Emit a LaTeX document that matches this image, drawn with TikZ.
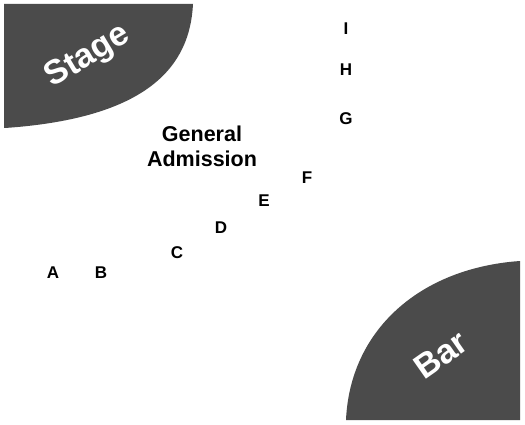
\documentclass[tikz,border=0pt]{standalone}
\usepackage{fontspec}
\setmainfont{Liberation Sans}
\definecolor{venue}{RGB}{75,75,75}
\begin{document}
\begin{tikzpicture}[x=1pt,y=-1pt,
  area/.style={fill=venue,draw=none},
  arealabel/.style={text=white,font=\bfseries\fontsize{34}{34}\selectfont,inner sep=0pt},
  seat/.style={font=\bfseries\fontsize{17}{17}\selectfont,inner sep=0pt,anchor=center},
  galabel/.style={font=\bfseries\fontsize{21.5}{25}\selectfont,align=center,inner sep=0pt}]
\useasboundingbox (0,0) rectangle (525,425);
% Stage
\fill[area] (4,4) -- (193,4) .. controls (190,65) and (150,118) .. (5,128) -- (4,128) -- cycle;
\node[arealabel,rotate=31] (stage) at (88,57) {Stage};
% Bar
\fill[area] (520,261) -- (520,420) -- (346,420) .. controls (350,330) and (420,268) .. (520,261) -- cycle;
\node[arealabel,rotate=35] (bar) at (441,355) {Bar};
% General admission
\node[galabel] (ga) at (202,146) {General\\Admission};
% Seats
\node[seat] (A) at (53,273) {A};
\node[seat] (B) at (101,273) {B};
\node[seat] (C) at (177,253) {C};
\node[seat] (D) at (221,228) {D};
\node[seat] (E) at (264,201) {E};
\node[seat] (F) at (307,178) {F};
\node[seat] (G) at (346,119) {G};
\node[seat] (H) at (346,70) {H};
\node[seat] (I) at (346,29) {I};
\end{tikzpicture}
\end{document}
